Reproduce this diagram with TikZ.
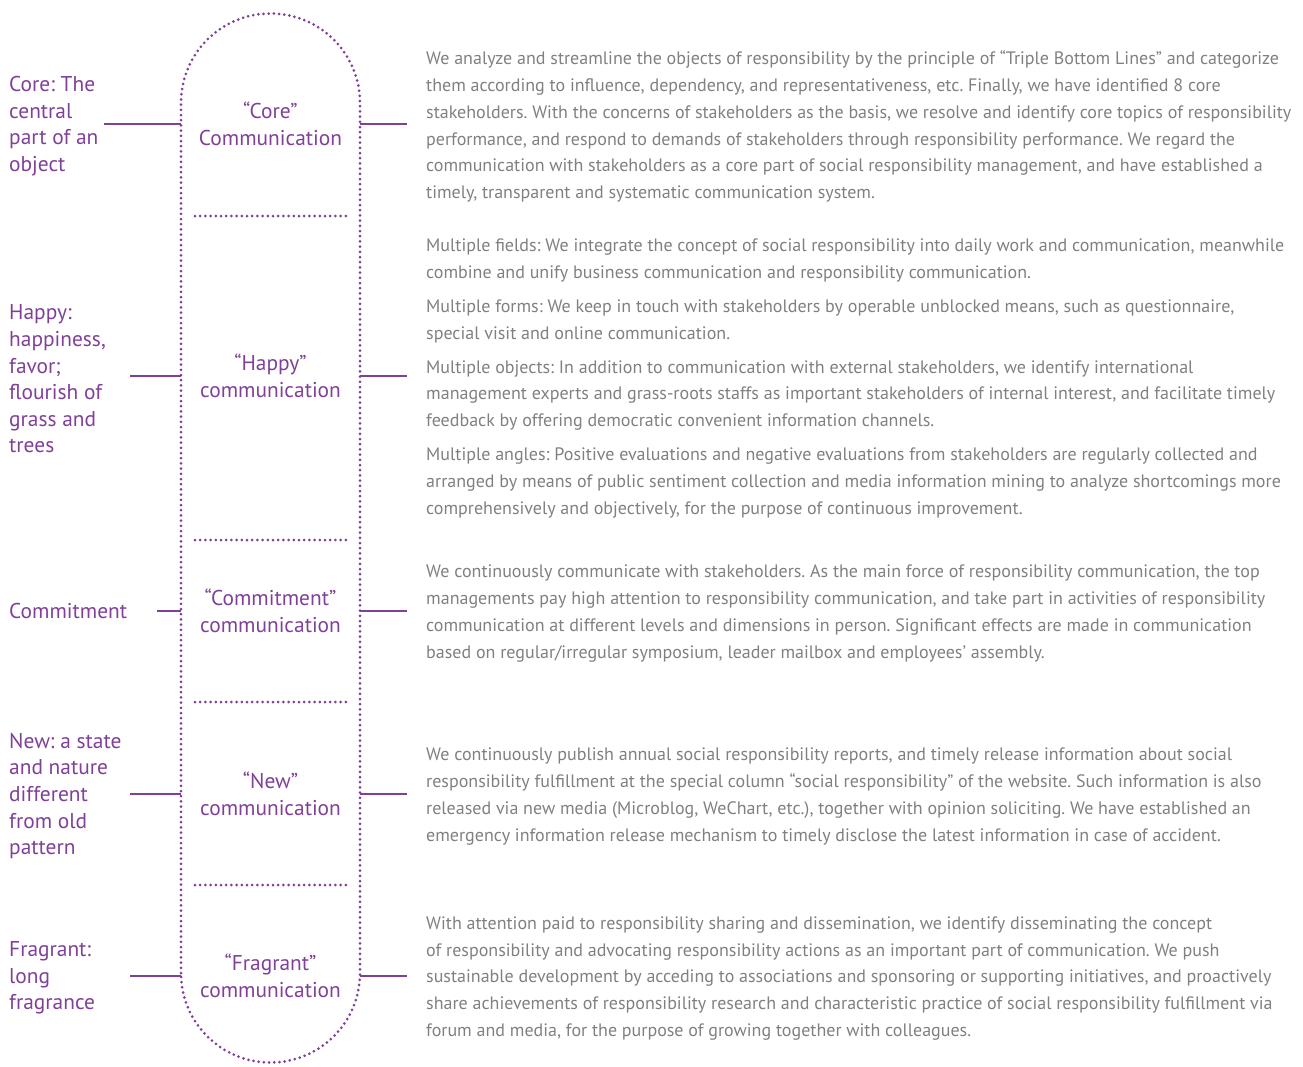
\documentclass[tikz,border=0pt]{standalone}
\usepackage{fontspec}
\setmainfont{PT Sans}
\usetikzlibrary{positioning, calc}
\definecolor{plum}{RGB}{128,64,152}
\definecolor{ink}{RGB}{128,128,128}
\frenchspacing

\begin{document}
\begin{tikzpicture}[
                x=1pt, y=-1pt,
                dotline/.style = {plum, line width=3pt, line cap=round, dash pattern=on 0pt off 5.2pt},
                link/.style = {plum, line width=2.8pt},
                tag/.style = {plum, align=left, anchor=west, inner sep=0pt, yshift=-2pt, font=\fontsize{21.4}{26.6}\selectfont},
                mid/.style = {plum, align=center, inner sep=0pt, minimum width=179pt, font=\fontsize{21.4}{26.6}\selectfont},
                desc/.style = {ink, align=left, anchor=west, inner xsep=19pt, inner ysep=0pt, yshift=-2.5pt, font=\fontsize{18}{26.8}\selectfont}
              ]
              \useasboundingbox (0,0) rectangle (1303,1066);
              % Capsule
              \draw[dotline] (181,973) -- (181,103) arc[start angle=180, end angle=0, radius=89.5pt]
                -- (360,973) arc[start angle=0, end angle=-180, radius=89.5pt] -- cycle;
              \foreach \y in {216, 540, 702, 885}
                \draw[dotline] (195,\y) -- (347,\y);
              % Middle labels
              \node[mid] (core) at (270.5,124) {“Core”\\Communication};
              \node[mid] (happy) at (270.5,376) {“Happy”\\communication};
              \node[mid] (commit) at (270.5,611) {“Commitment”\\communication};
              \node[mid] (new) at (270.5,794) {“New”\\communication};
              \node[mid] (fragrant) at (270.5,976) {“Fragrant”\\communication};
              % Left labels
              \node[tag] (coreT) at (9,124) {Core: The\\central\\part of an\\object};
              \node[tag] (happyT) at (9,377) {Happy:\\happiness,\\favor;\\flourish of\\grass and\\trees};
              \node[tag, yshift=2pt] (commitT) at (9,611) {Commitment};
              \node[tag] (newT) at (9,794) {New: a state\\and nature\\different\\from old\\pattern};
              \node[tag] (fragrantT) at (9,976) {Fragrant:\\long\\fragrance};
              % Descriptions
              \node[desc] (coreD) at (407,124) {We analyze and streamline the objects of responsibility by the principle of “Triple Bottom Lines” and categorize\\them according to influence, dependency, and representativeness, etc. Finally, we have identified 8 core\\stakeholders. With the concerns of stakeholders as the basis, we resolve and identify core topics of responsibility\\performance, and respond to demands of stakeholders through responsibility performance. We regard the\\communication with stakeholders as a core part of social responsibility management, and have established a\\timely, transparent and systematic communication system.};
              \node[desc] (happyD) at (407,376) {Multiple fields: We integrate the concept of social responsibility into daily work and communication, meanwhile\\combine and unify business communication and responsibility communication.\\[7pt]Multiple forms: We keep in touch with stakeholders by operable unblocked means, such as questionnaire,\\special visit and online communication.\\[7pt]Multiple objects: In addition to communication with external stakeholders, we identify international\\management experts and grass-roots staffs as important stakeholders of internal interest, and facilitate timely\\feedback by offering democratic convenient information channels.\\[7pt]Multiple angles: Positive evaluations and negative evaluations from stakeholders are regularly collected and\\arranged by means of public sentiment collection and media information mining to analyze shortcomings more\\comprehensively and objectively, for the purpose of continuous improvement.};
              \node[desc] (commitD) at (407,611) {We continuously communicate with stakeholders. As the main force of responsibility communication, the top\\managements pay high attention to responsibility communication, and take part in activities of responsibility\\communication at different levels and dimensions in person. Significant effects are made in communication\\based on regular/irregular symposium, leader mailbox and employees’ assembly.};
              \node[desc] (newD) at (407,794) {We continuously publish annual social responsibility reports, and timely release information about social\\responsibility fulfillment at the special column “social responsibility” of the website. Such information is also\\released via new media (Microblog, WeChart, etc.), together with opinion soliciting. We have established an\\emergency information release mechanism to timely disclose the latest information in case of accident.};
              \node[desc] (fragrantD) at (407,976) {With attention paid to responsibility sharing and dissemination, we identify disseminating the concept\\of responsibility and advocating responsibility actions as an important part of communication. We push\\sustainable development by acceding to associations and sponsoring or supporting initiatives, and proactively\\share achievements of responsibility research and characteristic practice of social responsibility fulfillment via\\forum and media, for the purpose of growing together with colleagues.};
              % Links
              \coordinate (coreA) at (104,124);
              \coordinate (happyA) at (130,376);
              \coordinate (commitA) at (157,611);
              \coordinate (newA) at (130,794);
              \coordinate (fragrantA) at (130,976);
              \foreach \n in {core, happy, commit, new, fragrant} {
                \draw[link] (\n A) -- (\n.west);
                \draw[link] (\n.east) -- (\n.east -| \n D.west);
              }
            \end{tikzpicture}
\end{document}
